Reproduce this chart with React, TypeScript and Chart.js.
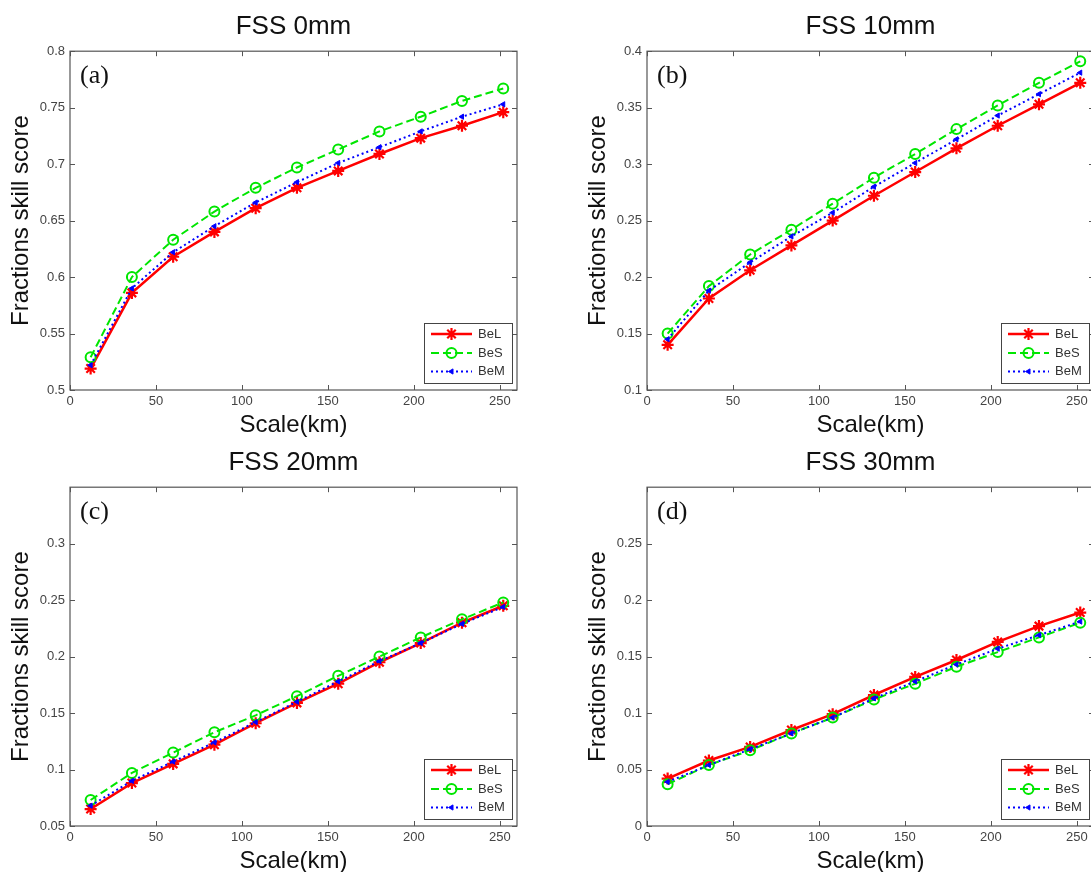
import React, { useEffect, useRef } from 'react';
import { Chart, registerables } from 'chart.js';
import { drawPoint } from 'chart.js/helpers';

Chart.register(...registerables);

const FONT = '"Liberation Sans", Arial, sans-serif';

const scaleKm = [12, 36, 60, 84, 108, 132, 156, 180, 204, 228, 252];
const xTicks = [0, 50, 100, 150, 200, 250];
const seriesNames = ['BeL', 'BeS', 'BeM'];

const fss0BeL = [0.519, 0.586, 0.618, 0.640, 0.661, 0.679, 0.694, 0.709, 0.723, 0.734, 0.746];
const fss0BeS = [0.529, 0.600, 0.633, 0.658, 0.679, 0.697, 0.713, 0.729, 0.742, 0.756, 0.767];
const fss0BeM = [0.522, 0.590, 0.622, 0.645, 0.666, 0.684, 0.701, 0.715, 0.729, 0.742, 0.753];
const fss0YTicks = [0.5, 0.55, 0.6, 0.65, 0.7, 0.75, 0.8];

const fss10BeL = [0.140, 0.181, 0.206, 0.228, 0.250, 0.272, 0.293, 0.314, 0.334, 0.353, 0.372];
const fss10BeS = [0.150, 0.192, 0.220, 0.242, 0.265, 0.288, 0.309, 0.331, 0.352, 0.372, 0.391];
const fss10BeM = [0.145, 0.188, 0.213, 0.236, 0.257, 0.280, 0.301, 0.322, 0.343, 0.362, 0.381];
const fss10YTicks = [0.1, 0.15, 0.2, 0.25, 0.3, 0.35, 0.4];

const fss20BeL = [0.065, 0.088, 0.105, 0.122, 0.141, 0.159, 0.176, 0.195, 0.212, 0.230, 0.245];
const fss20BeS = [0.073, 0.097, 0.115, 0.133, 0.148, 0.165, 0.183, 0.200, 0.217, 0.233, 0.248];
const fss20BeM = [0.068, 0.090, 0.107, 0.124, 0.142, 0.160, 0.178, 0.196, 0.212, 0.229, 0.244];
const fss20YTicks = [0.05, 0.1, 0.15, 0.2, 0.25, 0.3];

const fss30BeL = [0.042, 0.058, 0.070, 0.085, 0.099, 0.116, 0.132, 0.147, 0.163, 0.177, 0.189];
const fss30BeS = [0.037, 0.054, 0.067, 0.082, 0.096, 0.112, 0.126, 0.141, 0.154, 0.167, 0.180];
const fss30BeM = [0.039, 0.054, 0.068, 0.082, 0.096, 0.113, 0.128, 0.143, 0.157, 0.169, 0.181];
const fss30YTicks = [0, 0.05, 0.1, 0.15, 0.2, 0.25];

type PanelProps = {
  title: string;
  tag: string;
  left: number;
  top: number;
  yMin: number;
  yMax: number;
  yTicks: number[];
  bel: number[];
  bes: number[];
  bem: number[];
};

const CW = 537;
const CH = 445;

function Panel(p: PanelProps) {
  const ref = useRef<HTMLCanvasElement | null>(null);
  useEffect(() => {
    if (!ref.current) return;
    const mk = (arr: number[]) => scaleKm.map((x, i) => ({ x, y: arr[i] }));

    const boxPlugin = {
      id: 'boxPlugin',
      beforeDatasetsDraw(chart: any) {
        const { ctx, chartArea: ca, scales } = chart;
        ctx.save();
        ctx.strokeStyle = '#555';
        ctx.lineWidth = 1.2;
        ctx.strokeRect(ca.left, ca.top, ca.right - ca.left, ca.bottom - ca.top);
        ctx.lineWidth = 1;
        ctx.beginPath();
        xTicks.forEach((v) => {
          const px = Math.round(scales.x.getPixelForValue(v)) + 0.5;
          ctx.moveTo(px, ca.bottom);
          ctx.lineTo(px, ca.bottom - 5);
          ctx.moveTo(px, ca.top);
          ctx.lineTo(px, ca.top + 5);
        });
        p.yTicks.forEach((v) => {
          const py = Math.round(scales.y.getPixelForValue(v)) + 0.5;
          ctx.moveTo(ca.left, py);
          ctx.lineTo(ca.left + 5, py);
          ctx.moveTo(ca.right, py);
          ctx.lineTo(ca.right - 5, py);
        });
        ctx.stroke();
        ctx.restore();
      },
      afterDatasetsDraw(chart: any) {
        const { ctx, chartArea: ca } = chart;
        ctx.save();
        ctx.fillStyle = '#111';
        ctx.font = '26px "Liberation Serif", "Times New Roman", serif';
        ctx.textBaseline = 'middle';
        ctx.textAlign = 'left';
        ctx.fillText(p.tag, ca.left + 10, ca.top + 25);
        const w = 88;
        const h = 60;
        const bx = ca.right - 5 - w;
        const by = ca.bottom - 7 - h;
        ctx.fillStyle = '#fff';
        ctx.fillRect(bx, by, w, h);
        ctx.strokeStyle = '#444';
        ctx.lineWidth = 1;
        ctx.strokeRect(bx + 0.5, by + 0.5, w, h);
        const rows = [11, 30, 48.5];
        chart.data.datasets.forEach((ds: any, i: number) => {
          const y = by + rows[i];
          ctx.save();
          ctx.setLineDash(ds.borderDash || []);
          ctx.strokeStyle = ds.borderColor;
          ctx.lineWidth = ds.borderWidth;
          ctx.beginPath();
          ctx.moveTo(bx + 7, y);
          ctx.lineTo(bx + 48, y);
          ctx.stroke();
          ctx.restore();
          ctx.save();
          ctx.setLineDash([]);
          ctx.fillStyle = ds.pointBackgroundColor;
          ctx.strokeStyle = ds.pointBorderColor;
          ctx.lineWidth = ds.pointBorderWidth;
          drawPoint(ctx, {
            pointStyle: ds.pointStyle,
            rotation: ds.pointRotation || 0,
            radius: ds.pointRadius,
            borderWidth: ds.pointBorderWidth,
          } as any, bx + 27.5, y);
          ctx.restore();
          ctx.fillStyle = '#333';
          ctx.font = `13px ${FONT}`;
          ctx.textBaseline = 'middle';
          ctx.textAlign = 'left';
          ctx.fillText(ds.label, bx + 54, y);
        });
        ctx.restore();
      },
    };

    const chart = new Chart(ref.current, {
      type: 'line',
      data: {
        datasets: [
          {
            label: seriesNames[0],
            data: mk(p.bel),
            borderColor: '#ff0000',
            borderWidth: 2.5,
            pointStyle: 'star',
            pointRadius: 6,
            pointBorderWidth: 2.2,
            pointBackgroundColor: '#ff0000',
            pointBorderColor: '#ff0000',
            order: 3,
          },
          {
            label: seriesNames[1],
            data: mk(p.bes),
            borderColor: '#00e600',
            borderWidth: 2,
            borderDash: [8, 4],
            pointStyle: 'circle',
            pointRadius: 5,
            pointBorderWidth: 2,
            pointBackgroundColor: 'rgba(0,0,0,0)',
            pointBorderColor: '#00e600',
            order: 2,
          },
          {
            label: seriesNames[2],
            data: mk(p.bem),
            borderColor: '#0000ff',
            borderWidth: 2,
            borderDash: [2, 3],
            pointStyle: 'triangle',
            pointRotation: -90,
            pointRadius: 3,
            pointBorderWidth: 1,
            pointBackgroundColor: '#0000ff',
            pointBorderColor: '#0000ff',
            order: 1,
          },
        ] as any,
      },
      options: {
        animation: false,
        responsive: false,
        layout: { padding: { left: 0, right: 20, top: 0, bottom: 0 } },
        plugins: {
          legend: { display: false },
          tooltip: { enabled: false },
          title: {
            display: true,
            text: p.title,
            fullSize: false,
            color: '#111',
            font: { family: FONT, size: 26, weight: 'normal' },
            padding: { top: 11, bottom: 9 },
          },
        },
        scales: {
          x: {
            type: 'linear',
            min: 0,
            max: 260,
            afterBuildTicks: (s: any) => {
              s.ticks = xTicks.map((v) => ({ value: v }));
            },
            afterFit: (s: any) => {
              s.height = 55;
            },
            grid: { display: false, drawTicks: false },
            border: { display: false },
            ticks: {
              autoSkip: false,
              maxRotation: 0,
              padding: 4,
              color: '#444',
              font: { family: FONT, size: 13 },
              callback: (v: any) => String(v),
            },
            title: {
              display: true,
              text: 'Scale(km)',
              color: '#111',
              font: { family: FONT, size: 24 },
              padding: { top: 0, bottom: 5.6 },
            },
          },
          y: {
            type: 'linear',
            min: p.yMin,
            max: p.yMax,
            afterBuildTicks: (s: any) => {
              s.ticks = p.yTicks.map((v) => ({ value: v }));
            },
            afterFit: (s: any) => {
              s.width = 70;
            },
            grid: { display: false, drawTicks: false },
            border: { display: false },
            ticks: {
              autoSkip: false,
              padding: 5,
              color: '#444',
              font: { family: FONT, size: 13 },
              callback: (v: any) => String(v),
            },
            title: {
              display: true,
              text: 'Fractions skill score',
              color: '#111',
              font: { family: FONT, size: 24 },
              padding: { top: 6.6, bottom: 0 },
            },
          },
        },
      } as any,
      plugins: [boxPlugin],
    });
    return () => chart.destroy();
  }, []);
  return (
    <canvas
      ref={ref}
      width={CW}
      height={CH}
      style={{ position: 'absolute', left: p.left, top: p.top, width: CW, height: CH }}
    />
  );
}

export default function App() {
  return (
    <div
      style={{
        position: 'fixed',
        left: 0,
        top: 0,
        width: 1091,
        height: 872,
        overflow: 'hidden',
        background: '#fff',
      }}
    >
      <Panel title="FSS 0mm" tag="(a)" left={0} top={0} yMin={0.5} yMax={0.8} yTicks={fss0YTicks} bel={fss0BeL} bes={fss0BeS} bem={fss0BeM} />
      <Panel title="FSS 10mm" tag="(b)" left={577} top={0} yMin={0.1} yMax={0.4} yTicks={fss10YTicks} bel={fss10BeL} bes={fss10BeS} bem={fss10BeM} />
      <Panel title="FSS 20mm" tag="(c)" left={0} top={436} yMin={0.05} yMax={0.35} yTicks={fss20YTicks} bel={fss20BeL} bes={fss20BeS} bem={fss20BeM} />
      <Panel title="FSS 30mm" tag="(d)" left={577} top={436} yMin={0} yMax={0.3} yTicks={fss30YTicks} bel={fss30BeL} bes={fss30BeS} bem={fss30BeM} />
    </div>
  );
}
